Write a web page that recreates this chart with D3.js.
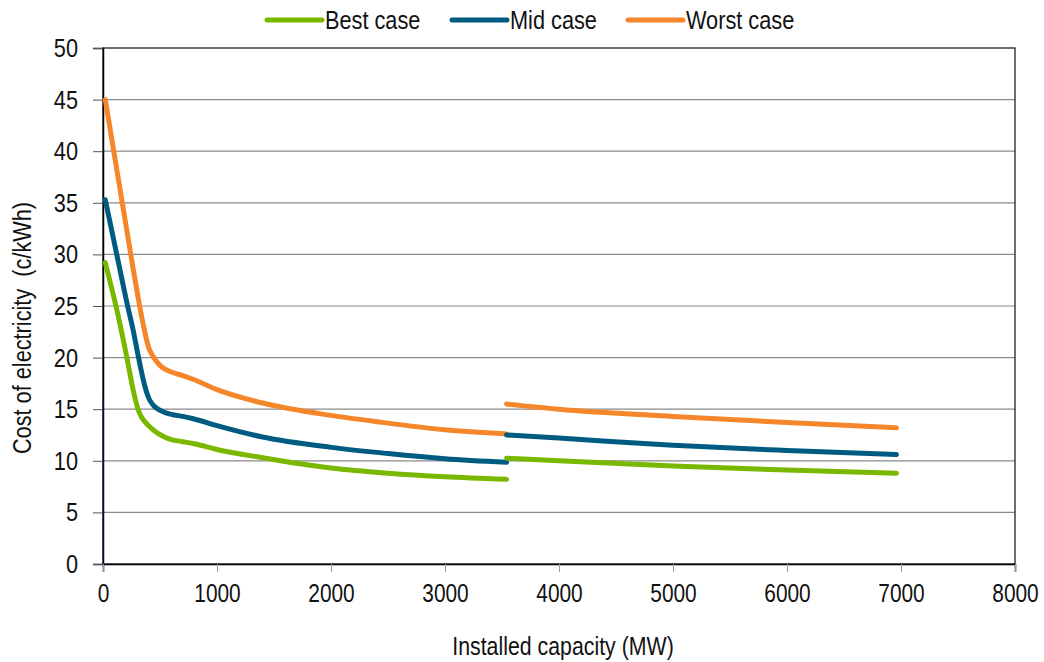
<!DOCTYPE html>
<html>
<head>
<meta charset="utf-8">
<script src="https://cdn.jsdelivr.net/npm/d3@7"></script>
<style>
  html, body { margin: 0; padding: 0; background: #fff; }
  svg { display: block; }
  text { font-family: "Liberation Sans", Arial, sans-serif; fill: #111; white-space: pre; }
</style>
</head>
<body>
<svg id="chart" width="1044" height="662"></svg>
<script>
// ---- Data ----
const seriesNames = ["Best case", "Mid case", "Worst case"];
const seriesColors = ["#7ab800", "#005b82", "#f5862a"];

// First segment (installed capacity, MW)
const capacity1 = [20, 130, 220, 260, 310, 340, 370, 400, 440, 490, 540, 600, 700, 800, 1000, 1400, 2000, 2500, 3000, 3540];
const best1  = [29.2, 24.2, 19.4, 17.1, 14.9, 14.2, 13.75, 13.4, 13.0, 12.6, 12.3, 12.05, 11.85, 11.65, 11.1, 10.3, 9.3, 8.8, 8.45, 8.2];
const mid1   = [35.3, 29.5, 24.8, 22.9, 20.1, 18.5, 17.1, 16.1, 15.4, 14.95, 14.7, 14.5, 14.3, 14.05, 13.4, 12.3, 11.3, 10.7, 10.2, 9.85];
const worst1 = [45.0, 37.6, 31.6, 28.9, 25.7, 23.9, 22.3, 21.0, 20.1, 19.35, 18.9, 18.6, 18.25, 17.85, 16.9, 15.6, 14.4, 13.65, 13.0, 12.6];

// Second segment
const capacity2 = [3540, 4000, 5000, 6000, 6960];
const best2  = [10.25, 10.0, 9.5, 9.1, 8.8];
const mid2   = [12.5, 12.2, 11.5, 11.0, 10.6];
const worst2 = [15.5, 15.0, 14.3, 13.7, 13.2];

// Dashed marker series at zero capacity
const markerX = [0, 0];
const markerY = [0, 16];

const xTicks = [0, 1000, 2000, 3000, 4000, 5000, 6000, 7000, 8000];
const yTicks = [0, 5, 10, 15, 20, 25, 30, 35, 40, 45, 50];
const xTitle = "Installed capacity (MW)";
const yTitle = "Cost of electricity  (c/kWh)";

// ---- Layout ----
const SX = 0.82; // narrow font look
const svg = d3.select("#chart");
const m = { left: 103, right: 1015, top: 48, bottom: 564 };

const x = d3.scaleLinear().domain([0, 8000]).range([m.left, m.right]);
const y = d3.scaleLinear().domain([0, 50]).range([m.bottom, m.top]);

function condense(sel) {
  sel.each(function () {
    const t = d3.select(this);
    const x0 = +(t.attr("x") || 0);
    t.attr("transform", `translate(${x0},0) scale(${SX},1) translate(${-x0},0)`);
  });
}

// gridlines
svg.append("g").selectAll("line").data(yTicks.filter(d => d > 0 && d < 50)).join("line")
  .attr("x1", m.left).attr("x2", m.right)
  .attr("y1", d => y(d)).attr("y2", d => y(d))
  .attr("stroke", "#8a8a8a").attr("stroke-width", 1.2);

// plot box
svg.append("rect")
  .attr("x", m.left).attr("y", m.top)
  .attr("width", m.right - m.left).attr("height", m.bottom - m.top)
  .attr("fill", "none").attr("stroke", "#222").attr("stroke-width", 1.3);

// y axis
const yAxis = d3.axisLeft(y).tickValues(yTicks).tickSize(10).tickPadding(15).tickFormat(d3.format("d"));
const gy = svg.append("g").attr("transform", `translate(${m.left},0)`).call(yAxis);
gy.select(".domain").attr("stroke", "#000").attr("stroke-width", 1.5);
gy.selectAll(".tick line").attr("stroke", "#555");
gy.selectAll(".tick text").style("font-size", "26.5px").attr("fill", "#111").call(condense);

// x axis
const xAxis = d3.axisBottom(x).tickValues(xTicks).tickSize(8).tickPadding(12).tickFormat(d3.format("d"));
const gx = svg.append("g").attr("transform", `translate(0,${m.bottom})`).call(xAxis);
gx.select(".domain").attr("stroke", "#000").attr("stroke-width", 1.5);
gx.selectAll(".tick line").attr("stroke", "#999");
gx.selectAll(".tick text").style("font-size", "25.5px").attr("fill", "#111").call(condense);

// titles
const xt = svg.append("text").attr("x", 563).attr("y", 655)
  .attr("text-anchor", "middle").style("font-size", "26px").text(xTitle);
condense(xt);
svg.append("text").attr("transform", `translate(31,328) rotate(-90) scale(${SX},1)`)
  .attr("text-anchor", "middle").style("font-size", "26.5px").text(yTitle);

// dashed marker
svg.append("line")
  .attr("x1", x(markerX[0])).attr("x2", x(markerX[1]))
  .attr("y1", y(markerY[0])).attr("y2", y(markerY[1]))
  .attr("stroke", "#1a1a8c").attr("stroke-width", 1.5).attr("stroke-dasharray", "2,2");

// lines
const line = d3.line().x(d => x(d[0])).y(d => y(d[1])).curve(d3.curveMonotoneX);
const segs = [
  [capacity1, [best1, mid1, worst1]],
  [capacity2, [best2, mid2, worst2]]
];
segs.forEach(([caps, vals]) => {
  vals.forEach((v, i) => {
    svg.append("path")
      .datum(caps.map((c, j) => [c, v[j]]))
      .attr("d", line)
      .attr("fill", "none")
      .attr("stroke", seriesColors[i])
      .attr("stroke-width", 5)
      .attr("stroke-linecap", "round")
      .attr("stroke-linejoin", "round");
  });
});

// legend
const legendPos = [267, 452, 628];
seriesNames.forEach((n, i) => {
  const g = svg.append("g").attr("transform", `translate(${legendPos[i]},20)`);
  g.append("line").attr("x1", 0).attr("x2", 55).attr("y1", 0).attr("y2", 0)
    .attr("stroke", seriesColors[i]).attr("stroke-width", 5).attr("stroke-linecap", "round");
  const t = g.append("text").attr("x", 58).attr("y", 9).style("font-size", "26.5px").text(n);
  condense(t);
});
</script>
</body>
</html>
